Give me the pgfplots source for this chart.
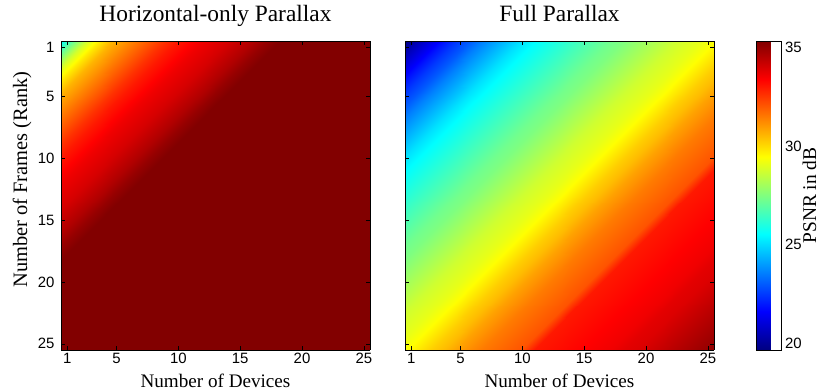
\documentclass[border=0pt]{standalone}
\usepackage{pgfplots}
\pgfplotsset{compat=1.18}
\usepackage{fontspec}
\setmainfont{Liberation Serif}
\newfontfamily\arialfont{Liberation Sans}
\begin{document}
\begin{tikzpicture}
\useasboundingbox (-61bp,-42bp) rectangle (759bp,350bp);
\pgfplotsset{
  hm/.style={
    scale only axis, width=309bp, height=309bp,
    view={0}{90},
    xmin=0.5, xmax=25.5, ymin=0.5, ymax=25.5,
    y dir=reverse,
    xtick={1,5,10,15,20,25}, ytick={1,5,10,15,20,25},
    tick align=inside,
    major tick length=4bp,
    tick style={black, line width=0.6bp},
    axis line style={black, line width=0.8bp},
    colormap/jet,
    point meta min=19.67, point meta max=35.33,
    /pgf/number format/assume math mode=true,
    tick label style={font=\arialfont\fontsize{15}{15}\selectfont},
    yticklabel style={xshift=-3bp},
    xlabel style={font=\fontsize{19.2}{20}\selectfont, at={([yshift=-37bp]axis description cs:0.5,0)}, anchor=base},
    ylabel style={font=\fontsize{20.5}{21}\selectfont, at={([xshift=-34bp,yshift=16bp]axis description cs:0,0.5)}, anchor=base},
    title style={font=\fontsize{23.5}{24}\selectfont, at={([yshift=14bp]axis description cs:0.5,1)}, anchor=base},
    x filter/.expression={0.5+(x-1)*25/24},
    y filter/.expression={0.5+(y-1)*25/24},
    axis on top,
  }
}
\begin{axis}[hm, at={(0bp,0bp)}, anchor=south west,
  title={Horizontal-only Parallax},
  xlabel={Number of Devices}, ylabel={Number of Frames (Rank)}]
\addplot3[surf, shader=interp, mesh/cols=25] coordinates {
(1,1,25.5) (2,1,27.3) (3,1,28.8) (4,1,29.8) (5,1,30.6) (6,1,31.1) (7,1,31.6) (8,1,32.1) (9,1,32.6) (10,1,33.0) (11,1,33.3) (12,1,33.6) (13,1,33.8) (14,1,34.0) (15,1,34.3) (16,1,34.6) (17,1,35.0) (18,1,35.3) (19,1,35.3) (20,1,35.3) (21,1,35.3) (22,1,35.3) (23,1,35.3) (24,1,35.3) (25,1,35.3)
(1,2,27.3) (2,2,28.8) (3,2,29.8) (4,2,30.6) (5,2,31.1) (6,2,31.6) (7,2,32.1) (8,2,32.6) (9,2,33.0) (10,2,33.3) (11,2,33.6) (12,2,33.8) (13,2,34.0) (14,2,34.3) (15,2,34.6) (16,2,35.0) (17,2,35.3) (18,2,35.3) (19,2,35.3) (20,2,35.3) (21,2,35.3) (22,2,35.3) (23,2,35.3) (24,2,35.3) (25,2,35.3)
(1,3,28.8) (2,3,29.8) (3,3,30.6) (4,3,31.1) (5,3,31.6) (6,3,32.1) (7,3,32.6) (8,3,33.0) (9,3,33.3) (10,3,33.6) (11,3,33.8) (12,3,34.0) (13,3,34.3) (14,3,34.6) (15,3,35.0) (16,3,35.3) (17,3,35.3) (18,3,35.3) (19,3,35.3) (20,3,35.3) (21,3,35.3) (22,3,35.3) (23,3,35.3) (24,3,35.3) (25,3,35.3)
(1,4,29.8) (2,4,30.6) (3,4,31.1) (4,4,31.6) (5,4,32.1) (6,4,32.6) (7,4,33.0) (8,4,33.3) (9,4,33.6) (10,4,33.8) (11,4,34.0) (12,4,34.3) (13,4,34.6) (14,4,35.0) (15,4,35.3) (16,4,35.3) (17,4,35.3) (18,4,35.3) (19,4,35.3) (20,4,35.3) (21,4,35.3) (22,4,35.3) (23,4,35.3) (24,4,35.3) (25,4,35.3)
(1,5,30.6) (2,5,31.1) (3,5,31.6) (4,5,32.1) (5,5,32.6) (6,5,33.0) (7,5,33.3) (8,5,33.6) (9,5,33.8) (10,5,34.0) (11,5,34.3) (12,5,34.6) (13,5,35.0) (14,5,35.3) (15,5,35.3) (16,5,35.3) (17,5,35.3) (18,5,35.3) (19,5,35.3) (20,5,35.3) (21,5,35.3) (22,5,35.3) (23,5,35.3) (24,5,35.3) (25,5,35.3)
(1,6,31.1) (2,6,31.6) (3,6,32.1) (4,6,32.6) (5,6,33.0) (6,6,33.3) (7,6,33.6) (8,6,33.8) (9,6,34.0) (10,6,34.3) (11,6,34.6) (12,6,35.0) (13,6,35.3) (14,6,35.3) (15,6,35.3) (16,6,35.3) (17,6,35.3) (18,6,35.3) (19,6,35.3) (20,6,35.3) (21,6,35.3) (22,6,35.3) (23,6,35.3) (24,6,35.3) (25,6,35.3)
(1,7,31.6) (2,7,32.1) (3,7,32.6) (4,7,33.0) (5,7,33.3) (6,7,33.6) (7,7,33.8) (8,7,34.0) (9,7,34.3) (10,7,34.6) (11,7,35.0) (12,7,35.3) (13,7,35.3) (14,7,35.3) (15,7,35.3) (16,7,35.3) (17,7,35.3) (18,7,35.3) (19,7,35.3) (20,7,35.3) (21,7,35.3) (22,7,35.3) (23,7,35.3) (24,7,35.3) (25,7,35.3)
(1,8,32.1) (2,8,32.6) (3,8,33.0) (4,8,33.3) (5,8,33.6) (6,8,33.8) (7,8,34.0) (8,8,34.3) (9,8,34.6) (10,8,35.0) (11,8,35.3) (12,8,35.3) (13,8,35.3) (14,8,35.3) (15,8,35.3) (16,8,35.3) (17,8,35.3) (18,8,35.3) (19,8,35.3) (20,8,35.3) (21,8,35.3) (22,8,35.3) (23,8,35.3) (24,8,35.3) (25,8,35.3)
(1,9,32.6) (2,9,33.0) (3,9,33.3) (4,9,33.6) (5,9,33.8) (6,9,34.0) (7,9,34.3) (8,9,34.6) (9,9,35.0) (10,9,35.3) (11,9,35.3) (12,9,35.3) (13,9,35.3) (14,9,35.3) (15,9,35.3) (16,9,35.3) (17,9,35.3) (18,9,35.3) (19,9,35.3) (20,9,35.3) (21,9,35.3) (22,9,35.3) (23,9,35.3) (24,9,35.3) (25,9,35.3)
(1,10,33.0) (2,10,33.3) (3,10,33.6) (4,10,33.8) (5,10,34.0) (6,10,34.3) (7,10,34.6) (8,10,35.0) (9,10,35.3) (10,10,35.3) (11,10,35.3) (12,10,35.3) (13,10,35.3) (14,10,35.3) (15,10,35.3) (16,10,35.3) (17,10,35.3) (18,10,35.3) (19,10,35.3) (20,10,35.3) (21,10,35.3) (22,10,35.3) (23,10,35.3) (24,10,35.3) (25,10,35.3)
(1,11,33.3) (2,11,33.6) (3,11,33.8) (4,11,34.0) (5,11,34.3) (6,11,34.6) (7,11,35.0) (8,11,35.3) (9,11,35.3) (10,11,35.3) (11,11,35.3) (12,11,35.3) (13,11,35.3) (14,11,35.3) (15,11,35.3) (16,11,35.3) (17,11,35.3) (18,11,35.3) (19,11,35.3) (20,11,35.3) (21,11,35.3) (22,11,35.3) (23,11,35.3) (24,11,35.3) (25,11,35.3)
(1,12,33.6) (2,12,33.8) (3,12,34.0) (4,12,34.3) (5,12,34.6) (6,12,35.0) (7,12,35.3) (8,12,35.3) (9,12,35.3) (10,12,35.3) (11,12,35.3) (12,12,35.3) (13,12,35.3) (14,12,35.3) (15,12,35.3) (16,12,35.3) (17,12,35.3) (18,12,35.3) (19,12,35.3) (20,12,35.3) (21,12,35.3) (22,12,35.3) (23,12,35.3) (24,12,35.3) (25,12,35.3)
(1,13,33.8) (2,13,34.0) (3,13,34.3) (4,13,34.6) (5,13,35.0) (6,13,35.3) (7,13,35.3) (8,13,35.3) (9,13,35.3) (10,13,35.3) (11,13,35.3) (12,13,35.3) (13,13,35.3) (14,13,35.3) (15,13,35.3) (16,13,35.3) (17,13,35.3) (18,13,35.3) (19,13,35.3) (20,13,35.3) (21,13,35.3) (22,13,35.3) (23,13,35.3) (24,13,35.3) (25,13,35.3)
(1,14,34.0) (2,14,34.3) (3,14,34.6) (4,14,35.0) (5,14,35.3) (6,14,35.3) (7,14,35.3) (8,14,35.3) (9,14,35.3) (10,14,35.3) (11,14,35.3) (12,14,35.3) (13,14,35.3) (14,14,35.3) (15,14,35.3) (16,14,35.3) (17,14,35.3) (18,14,35.3) (19,14,35.3) (20,14,35.3) (21,14,35.3) (22,14,35.3) (23,14,35.3) (24,14,35.3) (25,14,35.3)
(1,15,34.3) (2,15,34.6) (3,15,35.0) (4,15,35.3) (5,15,35.3) (6,15,35.3) (7,15,35.3) (8,15,35.3) (9,15,35.3) (10,15,35.3) (11,15,35.3) (12,15,35.3) (13,15,35.3) (14,15,35.3) (15,15,35.3) (16,15,35.3) (17,15,35.3) (18,15,35.3) (19,15,35.3) (20,15,35.3) (21,15,35.3) (22,15,35.3) (23,15,35.3) (24,15,35.3) (25,15,35.3)
(1,16,34.6) (2,16,35.0) (3,16,35.3) (4,16,35.3) (5,16,35.3) (6,16,35.3) (7,16,35.3) (8,16,35.3) (9,16,35.3) (10,16,35.3) (11,16,35.3) (12,16,35.3) (13,16,35.3) (14,16,35.3) (15,16,35.3) (16,16,35.3) (17,16,35.3) (18,16,35.3) (19,16,35.3) (20,16,35.3) (21,16,35.3) (22,16,35.3) (23,16,35.3) (24,16,35.3) (25,16,35.3)
(1,17,35.0) (2,17,35.3) (3,17,35.3) (4,17,35.3) (5,17,35.3) (6,17,35.3) (7,17,35.3) (8,17,35.3) (9,17,35.3) (10,17,35.3) (11,17,35.3) (12,17,35.3) (13,17,35.3) (14,17,35.3) (15,17,35.3) (16,17,35.3) (17,17,35.3) (18,17,35.3) (19,17,35.3) (20,17,35.3) (21,17,35.3) (22,17,35.3) (23,17,35.3) (24,17,35.3) (25,17,35.3)
(1,18,35.3) (2,18,35.3) (3,18,35.3) (4,18,35.3) (5,18,35.3) (6,18,35.3) (7,18,35.3) (8,18,35.3) (9,18,35.3) (10,18,35.3) (11,18,35.3) (12,18,35.3) (13,18,35.3) (14,18,35.3) (15,18,35.3) (16,18,35.3) (17,18,35.3) (18,18,35.3) (19,18,35.3) (20,18,35.3) (21,18,35.3) (22,18,35.3) (23,18,35.3) (24,18,35.3) (25,18,35.3)
(1,19,35.3) (2,19,35.3) (3,19,35.3) (4,19,35.3) (5,19,35.3) (6,19,35.3) (7,19,35.3) (8,19,35.3) (9,19,35.3) (10,19,35.3) (11,19,35.3) (12,19,35.3) (13,19,35.3) (14,19,35.3) (15,19,35.3) (16,19,35.3) (17,19,35.3) (18,19,35.3) (19,19,35.3) (20,19,35.3) (21,19,35.3) (22,19,35.3) (23,19,35.3) (24,19,35.3) (25,19,35.3)
(1,20,35.3) (2,20,35.3) (3,20,35.3) (4,20,35.3) (5,20,35.3) (6,20,35.3) (7,20,35.3) (8,20,35.3) (9,20,35.3) (10,20,35.3) (11,20,35.3) (12,20,35.3) (13,20,35.3) (14,20,35.3) (15,20,35.3) (16,20,35.3) (17,20,35.3) (18,20,35.3) (19,20,35.3) (20,20,35.3) (21,20,35.3) (22,20,35.3) (23,20,35.3) (24,20,35.3) (25,20,35.3)
(1,21,35.3) (2,21,35.3) (3,21,35.3) (4,21,35.3) (5,21,35.3) (6,21,35.3) (7,21,35.3) (8,21,35.3) (9,21,35.3) (10,21,35.3) (11,21,35.3) (12,21,35.3) (13,21,35.3) (14,21,35.3) (15,21,35.3) (16,21,35.3) (17,21,35.3) (18,21,35.3) (19,21,35.3) (20,21,35.3) (21,21,35.3) (22,21,35.3) (23,21,35.3) (24,21,35.3) (25,21,35.3)
(1,22,35.3) (2,22,35.3) (3,22,35.3) (4,22,35.3) (5,22,35.3) (6,22,35.3) (7,22,35.3) (8,22,35.3) (9,22,35.3) (10,22,35.3) (11,22,35.3) (12,22,35.3) (13,22,35.3) (14,22,35.3) (15,22,35.3) (16,22,35.3) (17,22,35.3) (18,22,35.3) (19,22,35.3) (20,22,35.3) (21,22,35.3) (22,22,35.3) (23,22,35.3) (24,22,35.3) (25,22,35.3)
(1,23,35.3) (2,23,35.3) (3,23,35.3) (4,23,35.3) (5,23,35.3) (6,23,35.3) (7,23,35.3) (8,23,35.3) (9,23,35.3) (10,23,35.3) (11,23,35.3) (12,23,35.3) (13,23,35.3) (14,23,35.3) (15,23,35.3) (16,23,35.3) (17,23,35.3) (18,23,35.3) (19,23,35.3) (20,23,35.3) (21,23,35.3) (22,23,35.3) (23,23,35.3) (24,23,35.3) (25,23,35.3)
(1,24,35.3) (2,24,35.3) (3,24,35.3) (4,24,35.3) (5,24,35.3) (6,24,35.3) (7,24,35.3) (8,24,35.3) (9,24,35.3) (10,24,35.3) (11,24,35.3) (12,24,35.3) (13,24,35.3) (14,24,35.3) (15,24,35.3) (16,24,35.3) (17,24,35.3) (18,24,35.3) (19,24,35.3) (20,24,35.3) (21,24,35.3) (22,24,35.3) (23,24,35.3) (24,24,35.3) (25,24,35.3)
(1,25,35.3) (2,25,35.3) (3,25,35.3) (4,25,35.3) (5,25,35.3) (6,25,35.3) (7,25,35.3) (8,25,35.3) (9,25,35.3) (10,25,35.3) (11,25,35.3) (12,25,35.3) (13,25,35.3) (14,25,35.3) (15,25,35.3) (16,25,35.3) (17,25,35.3) (18,25,35.3) (19,25,35.3) (20,25,35.3) (21,25,35.3) (22,25,35.3) (23,25,35.3) (24,25,35.3) (25,25,35.3)
};
\end{axis}
\begin{axis}[hm, name=R, at={(344bp,0bp)}, anchor=south west,
  title={Full Parallax},
  xlabel={Number of Devices}, yticklabels={},
  colorbar,
  colorbar style={
    at={(parent axis.north east)}, anchor=north west, xshift=34bp,
    scale only axis, width=25bp, height=309bp,
    ytick={20,25,30,35},
    major tick length=0pt,
    axis line style={black, line width=0.8bp},
    /pgf/number format/assume math mode=true,
    yticklabel style={font=\arialfont\fontsize{15}{15}\selectfont},
  }]
\addplot3[surf, shader=interp, mesh/cols=25] coordinates {
(1,1,19.7) (2,1,20.5) (3,1,21.2) (4,1,21.9) (5,1,22.5) (6,1,23.0) (7,1,23.6) (8,1,24.1) (9,1,24.6) (10,1,25.1) (11,1,25.5) (12,1,25.8) (13,1,26.1) (14,1,26.4) (15,1,26.7) (16,1,27.0) (17,1,27.3) (18,1,27.5) (19,1,27.8) (20,1,28.1) (21,1,28.4) (22,1,28.7) (23,1,28.9) (24,1,29.1) (25,1,29.4)
(1,2,20.5) (2,2,21.2) (3,2,21.9) (4,2,22.5) (5,2,23.0) (6,2,23.6) (7,2,24.1) (8,2,24.6) (9,2,25.1) (10,2,25.5) (11,2,25.8) (12,2,26.1) (13,2,26.4) (14,2,26.7) (15,2,27.0) (16,2,27.3) (17,2,27.5) (18,2,27.8) (19,2,28.1) (20,2,28.4) (21,2,28.7) (22,2,28.9) (23,2,29.1) (24,2,29.4) (25,2,29.8)
(1,3,21.2) (2,3,21.9) (3,3,22.5) (4,3,23.0) (5,3,23.6) (6,3,24.1) (7,3,24.6) (8,3,25.1) (9,3,25.5) (10,3,25.8) (11,3,26.1) (12,3,26.4) (13,3,26.7) (14,3,27.0) (15,3,27.3) (16,3,27.5) (17,3,27.8) (18,3,28.1) (19,3,28.4) (20,3,28.7) (21,3,28.9) (22,3,29.1) (23,3,29.4) (24,3,29.8) (25,3,30.2)
(1,4,21.9) (2,4,22.5) (3,4,23.0) (4,4,23.6) (5,4,24.1) (6,4,24.6) (7,4,25.1) (8,4,25.5) (9,4,25.8) (10,4,26.1) (11,4,26.4) (12,4,26.7) (13,4,27.0) (14,4,27.3) (15,4,27.5) (16,4,27.8) (17,4,28.1) (18,4,28.4) (19,4,28.7) (20,4,28.9) (21,4,29.1) (22,4,29.4) (23,4,29.8) (24,4,30.2) (25,4,30.5)
(1,5,22.5) (2,5,23.0) (3,5,23.6) (4,5,24.1) (5,5,24.6) (6,5,25.1) (7,5,25.5) (8,5,25.8) (9,5,26.1) (10,5,26.4) (11,5,26.7) (12,5,27.0) (13,5,27.3) (14,5,27.5) (15,5,27.8) (16,5,28.1) (17,5,28.4) (18,5,28.7) (19,5,28.9) (20,5,29.1) (21,5,29.4) (22,5,29.8) (23,5,30.2) (24,5,30.5) (25,5,30.9)
(1,6,23.0) (2,6,23.6) (3,6,24.1) (4,6,24.6) (5,6,25.1) (6,6,25.5) (7,6,25.8) (8,6,26.1) (9,6,26.4) (10,6,26.7) (11,6,27.0) (12,6,27.3) (13,6,27.5) (14,6,27.8) (15,6,28.1) (16,6,28.4) (17,6,28.7) (18,6,28.9) (19,6,29.1) (20,6,29.4) (21,6,29.8) (22,6,30.2) (23,6,30.5) (24,6,30.9) (25,6,31.2)
(1,7,23.6) (2,7,24.1) (3,7,24.6) (4,7,25.1) (5,7,25.5) (6,7,25.8) (7,7,26.1) (8,7,26.4) (9,7,26.7) (10,7,27.0) (11,7,27.3) (12,7,27.5) (13,7,27.8) (14,7,28.1) (15,7,28.4) (16,7,28.7) (17,7,28.9) (18,7,29.1) (19,7,29.4) (20,7,29.8) (21,7,30.2) (22,7,30.5) (23,7,30.9) (24,7,31.2) (25,7,31.5)
(1,8,24.1) (2,8,24.6) (3,8,25.1) (4,8,25.5) (5,8,25.8) (6,8,26.1) (7,8,26.4) (8,8,26.7) (9,8,27.0) (10,8,27.3) (11,8,27.5) (12,8,27.8) (13,8,28.1) (14,8,28.4) (15,8,28.7) (16,8,28.9) (17,8,29.1) (18,8,29.4) (19,8,29.8) (20,8,30.2) (21,8,30.5) (22,8,30.9) (23,8,31.2) (24,8,31.5) (25,8,31.7)
(1,9,24.6) (2,9,25.1) (3,9,25.5) (4,9,25.8) (5,9,26.1) (6,9,26.4) (7,9,26.7) (8,9,27.0) (9,9,27.3) (10,9,27.5) (11,9,27.8) (12,9,28.1) (13,9,28.4) (14,9,28.7) (15,9,28.9) (16,9,29.1) (17,9,29.4) (18,9,29.8) (19,9,30.2) (20,9,30.5) (21,9,30.9) (22,9,31.2) (23,9,31.5) (24,9,31.7) (25,9,31.9)
(1,10,25.1) (2,10,25.5) (3,10,25.8) (4,10,26.1) (5,10,26.4) (6,10,26.7) (7,10,27.0) (8,10,27.3) (9,10,27.5) (10,10,27.8) (11,10,28.1) (12,10,28.4) (13,10,28.7) (14,10,28.9) (15,10,29.1) (16,10,29.4) (17,10,29.8) (18,10,30.2) (19,10,30.5) (20,10,30.9) (21,10,31.2) (22,10,31.5) (23,10,31.7) (24,10,31.9) (25,10,32.1)
(1,11,25.5) (2,11,25.8) (3,11,26.1) (4,11,26.4) (5,11,26.7) (6,11,27.0) (7,11,27.3) (8,11,27.5) (9,11,27.8) (10,11,28.1) (11,11,28.4) (12,11,28.7) (13,11,28.9) (14,11,29.1) (15,11,29.4) (16,11,29.8) (17,11,30.2) (18,11,30.5) (19,11,30.9) (20,11,31.2) (21,11,31.5) (22,11,31.7) (23,11,31.9) (24,11,32.1) (25,11,33.0)
(1,12,25.8) (2,12,26.1) (3,12,26.4) (4,12,26.7) (5,12,27.0) (6,12,27.3) (7,12,27.5) (8,12,27.8) (9,12,28.1) (10,12,28.4) (11,12,28.7) (12,12,28.9) (13,12,29.1) (14,12,29.4) (15,12,29.8) (16,12,30.2) (17,12,30.5) (18,12,30.9) (19,12,31.2) (20,12,31.5) (21,12,31.7) (22,12,31.9) (23,12,32.1) (24,12,33.0) (25,12,33.1)
(1,13,26.1) (2,13,26.4) (3,13,26.7) (4,13,27.0) (5,13,27.3) (6,13,27.5) (7,13,27.8) (8,13,28.1) (9,13,28.4) (10,13,28.7) (11,13,28.9) (12,13,29.1) (13,13,29.4) (14,13,29.8) (15,13,30.2) (16,13,30.5) (17,13,30.9) (18,13,31.2) (19,13,31.5) (20,13,31.7) (21,13,31.9) (22,13,32.1) (23,13,33.0) (24,13,33.1) (25,13,33.2)
(1,14,26.4) (2,14,26.7) (3,14,27.0) (4,14,27.3) (5,14,27.5) (6,14,27.8) (7,14,28.1) (8,14,28.4) (9,14,28.7) (10,14,28.9) (11,14,29.1) (12,14,29.4) (13,14,29.8) (14,14,30.2) (15,14,30.5) (16,14,30.9) (17,14,31.2) (18,14,31.5) (19,14,31.7) (20,14,31.9) (21,14,32.1) (22,14,33.0) (23,14,33.1) (24,14,33.2) (25,14,33.3)
(1,15,26.7) (2,15,27.0) (3,15,27.3) (4,15,27.5) (5,15,27.8) (6,15,28.1) (7,15,28.4) (8,15,28.7) (9,15,28.9) (10,15,29.1) (11,15,29.4) (12,15,29.8) (13,15,30.2) (14,15,30.5) (15,15,30.9) (16,15,31.2) (17,15,31.5) (18,15,31.7) (19,15,31.9) (20,15,32.1) (21,15,33.0) (22,15,33.1) (23,15,33.2) (24,15,33.3) (25,15,33.4)
(1,16,27.0) (2,16,27.3) (3,16,27.5) (4,16,27.8) (5,16,28.1) (6,16,28.4) (7,16,28.7) (8,16,28.9) (9,16,29.1) (10,16,29.4) (11,16,29.8) (12,16,30.2) (13,16,30.5) (14,16,30.9) (15,16,31.2) (16,16,31.5) (17,16,31.7) (18,16,31.9) (19,16,32.1) (20,16,33.0) (21,16,33.1) (22,16,33.2) (23,16,33.3) (24,16,33.4) (25,16,33.5)
(1,17,27.3) (2,17,27.5) (3,17,27.8) (4,17,28.1) (5,17,28.4) (6,17,28.7) (7,17,28.9) (8,17,29.1) (9,17,29.4) (10,17,29.8) (11,17,30.2) (12,17,30.5) (13,17,30.9) (14,17,31.2) (15,17,31.5) (16,17,31.7) (17,17,31.9) (18,17,32.1) (19,17,33.0) (20,17,33.1) (21,17,33.2) (22,17,33.3) (23,17,33.4) (24,17,33.5) (25,17,33.6)
(1,18,27.5) (2,18,27.8) (3,18,28.1) (4,18,28.4) (5,18,28.7) (6,18,28.9) (7,18,29.1) (8,18,29.4) (9,18,29.8) (10,18,30.2) (11,18,30.5) (12,18,30.9) (13,18,31.2) (14,18,31.5) (15,18,31.7) (16,18,31.9) (17,18,32.1) (18,18,33.0) (19,18,33.1) (20,18,33.2) (21,18,33.3) (22,18,33.4) (23,18,33.5) (24,18,33.6) (25,18,33.8)
(1,19,27.8) (2,19,28.1) (3,19,28.4) (4,19,28.7) (5,19,28.9) (6,19,29.1) (7,19,29.4) (8,19,29.8) (9,19,30.2) (10,19,30.5) (11,19,30.9) (12,19,31.2) (13,19,31.5) (14,19,31.7) (15,19,31.9) (16,19,32.1) (17,19,33.0) (18,19,33.1) (19,19,33.2) (20,19,33.3) (21,19,33.4) (22,19,33.5) (23,19,33.6) (24,19,33.8) (25,19,33.9)
(1,20,28.1) (2,20,28.4) (3,20,28.7) (4,20,28.9) (5,20,29.1) (6,20,29.4) (7,20,29.8) (8,20,30.2) (9,20,30.5) (10,20,30.9) (11,20,31.2) (12,20,31.5) (13,20,31.7) (14,20,31.9) (15,20,32.1) (16,20,33.0) (17,20,33.1) (18,20,33.2) (19,20,33.3) (20,20,33.4) (21,20,33.5) (22,20,33.6) (23,20,33.8) (24,20,33.9) (25,20,34.1)
(1,21,28.4) (2,21,28.7) (3,21,28.9) (4,21,29.1) (5,21,29.4) (6,21,29.8) (7,21,30.2) (8,21,30.5) (9,21,30.9) (10,21,31.2) (11,21,31.5) (12,21,31.7) (13,21,31.9) (14,21,32.1) (15,21,33.0) (16,21,33.1) (17,21,33.2) (18,21,33.3) (19,21,33.4) (20,21,33.5) (21,21,33.6) (22,21,33.8) (23,21,33.9) (24,21,34.1) (25,21,34.3)
(1,22,28.7) (2,22,28.9) (3,22,29.1) (4,22,29.4) (5,22,29.8) (6,22,30.2) (7,22,30.5) (8,22,30.9) (9,22,31.2) (10,22,31.5) (11,22,31.7) (12,22,31.9) (13,22,32.1) (14,22,33.0) (15,22,33.1) (16,22,33.2) (17,22,33.3) (18,22,33.4) (19,22,33.5) (20,22,33.6) (21,22,33.8) (22,22,33.9) (23,22,34.1) (24,22,34.3) (25,22,34.5)
(1,23,28.9) (2,23,29.1) (3,23,29.4) (4,23,29.8) (5,23,30.2) (6,23,30.5) (7,23,30.9) (8,23,31.2) (9,23,31.5) (10,23,31.7) (11,23,31.9) (12,23,32.1) (13,23,33.0) (14,23,33.1) (15,23,33.2) (16,23,33.3) (17,23,33.4) (18,23,33.5) (19,23,33.6) (20,23,33.8) (21,23,33.9) (22,23,34.1) (23,23,34.3) (24,23,34.5) (25,23,34.7)
(1,24,29.1) (2,24,29.4) (3,24,29.8) (4,24,30.2) (5,24,30.5) (6,24,30.9) (7,24,31.2) (8,24,31.5) (9,24,31.7) (10,24,31.9) (11,24,32.1) (12,24,33.0) (13,24,33.1) (14,24,33.2) (15,24,33.3) (16,24,33.4) (17,24,33.5) (18,24,33.6) (19,24,33.8) (20,24,33.9) (21,24,34.1) (22,24,34.3) (23,24,34.5) (24,24,34.7) (25,24,34.9)
(1,25,29.4) (2,25,29.8) (3,25,30.2) (4,25,30.5) (5,25,30.9) (6,25,31.2) (7,25,31.5) (8,25,31.7) (9,25,31.9) (10,25,32.1) (11,25,33.0) (12,25,33.1) (13,25,33.2) (14,25,33.3) (15,25,33.4) (16,25,33.5) (17,25,33.6) (18,25,33.8) (19,25,33.9) (20,25,34.1) (21,25,34.3) (22,25,34.5) (23,25,34.7) (24,25,34.9) (25,25,35.1)
};
\end{axis}
\node[rotate=90, anchor=base, inner sep=0pt, font=\fontsize{19.5}{20}\selectfont] at ([xshift=102bp]R.east) {PSNR in dB};
\end{tikzpicture}
\end{document}
